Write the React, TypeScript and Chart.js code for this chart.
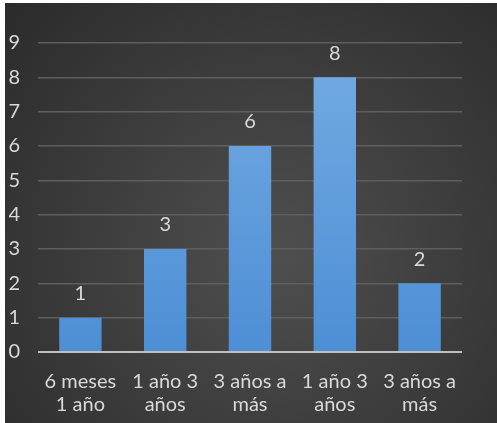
import React, { useEffect, useRef } from "react";
import { Chart, registerables } from "chart.js";

Chart.register(...registerables);

const categories: string[][] = [
  ["6 meses", "1 año"],
  ["1 año 3", "años"],
  ["3 años a", "más"],
  ["1 año 3", "años"],
  ["3 años a", "más"],
];
const values: number[] = [1, 3, 6, 8, 2];
const yTicks: number[] = [0, 1, 2, 3, 4, 5, 6, 7, 8, 9];

const FONT = "Lato, 'Open Sans', sans-serif";
const TEXT = "#d9d9d9";

const bgPlugin = {
  id: "bgPlugin",
  beforeDraw(chart: any) {
    const { ctx, width, height } = chart;
    ctx.save();
    const g = ctx.createRadialGradient(width * 0.55, height * 0.6, 10, width * 0.55, height * 0.6, width * 0.8);
    g.addColorStop(0, "#4e4e4e");
    g.addColorStop(1, "#282828");
    ctx.fillStyle = g;
    ctx.fillRect(0, 0, width, height);
    ctx.restore();
  },
};

const labelPlugin = {
  id: "labelPlugin",
  afterDatasetsDraw(chart: any) {
    const { ctx } = chart;
    const meta = chart.getDatasetMeta(0);
    ctx.save();
    ctx.fillStyle = TEXT;
    ctx.font = `20px ${FONT}`;
    ctx.textAlign = "center";
    ctx.textBaseline = "middle";
    meta.data.forEach((bar: any, i: number) => {
      ctx.fillText(String(values[i]), bar.x, bar.y - 24);
    });
    ctx.restore();
  },
};

export default function App() {
  const ref = useRef<HTMLCanvasElement | null>(null);
  useEffect(() => {
    if (!ref.current) return;
    const chart = new Chart(ref.current, {
      type: "bar",
      data: {
        labels: categories,
        datasets: [
          {
            data: values,
            backgroundColor: (c: any) => {
              const area = c.chart.chartArea;
              if (!area) return "#5b9bd5";
              const g = c.chart.ctx.createLinearGradient(0, area.top, 0, area.bottom);
              g.addColorStop(0, "#74ace2");
              g.addColorStop(1, "#4d8ed5");
              return g;
            },
            borderWidth: 0,
            barPercentage: 0.5,
            categoryPercentage: 1,
          },
        ],
      },
      options: {
        animation: false,
        responsive: false,
        maintainAspectRatio: false,
        layout: { padding: { top: 40, right: 35, bottom: 6, left: 4 } },
        plugins: { legend: { display: false }, tooltip: { enabled: false } },
        scales: {
          x: {
            grid: { display: false, drawTicks: false },
            border: { display: false },
            ticks: {
              color: TEXT,
              font: { family: FONT, size: 20, lineHeight: 1.15 },
              padding: 18,
              maxRotation: 0,
              autoSkip: false,
            },
            afterFit: (s: any) => {
              s.paddingLeft = 0;
              s.paddingRight = 0;
              s.height = 65;
            },
          },
          y: {
            min: 0,
            max: 9,
            afterBuildTicks: (axis: any) => {
              axis.ticks = yTicks.map((v) => ({ value: v }));
            },
            afterFit: (s: any) => {
              s.width = 29;
              s.paddingTop = 0;
              s.paddingBottom = 0;
            },
            grid: {
              color: (c: any) => (c.tick && c.tick.value === 0 ? "#bfbfbf" : "#5e5e5e"),
              lineWidth: (c: any) => (c.tick && c.tick.value === 0 ? 2 : 1.5),
              drawTicks: false,
            },
            border: { display: false },
            ticks: { color: TEXT, font: { family: FONT, size: 20 }, padding: 18, autoSkip: false },
          },
        },
      },
      plugins: [bgPlugin, labelPlugin],
    });
    return () => chart.destroy();
  }, []);
  return (
    <div style={{ position: "fixed", left: 5, top: 3, width: 492, height: 420 }}>
      <canvas ref={ref} width={492} height={420} style={{ display: "block" }} />
    </div>
  );
}
